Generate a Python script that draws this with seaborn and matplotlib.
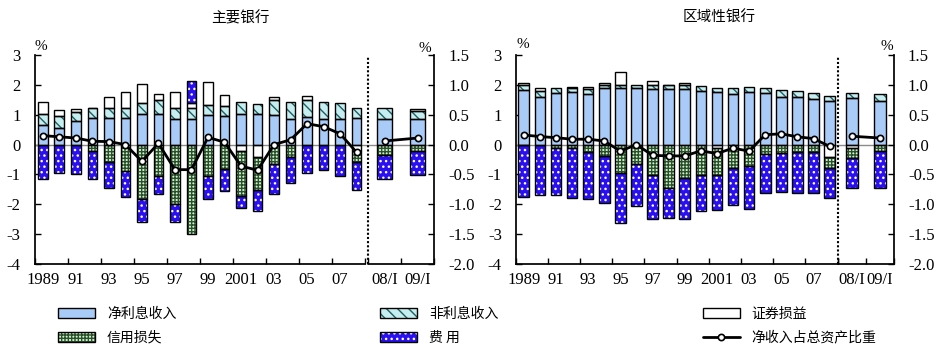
import numpy as np
import seaborn as sns
import matplotlib.pyplot as plt
from matplotlib.patches import Patch
from matplotlib.lines import Line2D
from matplotlib.legend_handler import HandlerTuple

years = [str(y) for y in range(1989, 2009)]
quarters = ['08/I', '09/I']
year_labels = ['1989', '91', '93', '95', '97', '99', '2001', '03', '05', '07']
series_names = ['净利息收入', '非利息收入', '证券损益', '信用损失', '费 用']
line_name = '净收入占总资产比重'

# 主要银行 (20 years + 2 quarters)
main_nii = [0.65, 0.57, 0.79, 0.90, 0.90, 0.90, 1.02, 1.02, 0.87, 0.87, 0.98,
            0.96, 1.04, 1.04, 0.98, 0.87, 0.94, 0.87, 0.87, 0.90, 0.84, 0.87]
main_nonii = [0.39, 0.39, 0.31, 0.31, 0.34, 0.34, 0.36, 0.46, 0.37, 0.37, 0.33,
              0.33, 0.38, 0.33, 0.50, 0.55, 0.56, 0.55, 0.51, 0.34, 0.39, 0.25]
main_sec = [0.38, 0.19, 0.10, 0.03, 0.37, 0.51, 0.65, 0.23, 0.51, 0.16, 0.78,
            0.37, -0.22, -0.40, 0.12, 0.0, 0.12, 0.0, 0.0, -0.22, 0.0, 0.07]
main_credit = [0.0, 0.0, 0.0, -0.20, -0.58, -0.88, -1.83, -1.05, -2.00, -2.98, -1.06,
               -0.83, -1.49, -1.12, -0.66, -0.40, 0.0, 0.0, 0.0, -0.37, -0.36, -0.22]
main_exp = [-1.14, -0.94, -0.99, -0.94, -0.89, -0.86, -0.76, -0.60, -0.59, 0.74, -0.77,
            -0.73, -0.42, -0.69, -1.00, -0.88, -0.95, -0.86, -1.05, -0.94, -0.78, -0.81]
main_ratio = [0.15, 0.13, 0.11, 0.055, 0.05, 0.0, -0.28, 0.02, -0.42, -0.42, 0.12,
              0.04, -0.36, -0.43, 0.0, 0.08, 0.35, 0.30, 0.18, -0.13, 0.06, 0.11]

# 区域性银行
reg_nii = [1.82, 1.61, 1.72, 1.77, 1.71, 1.89, 1.88, 1.88, 1.85, 1.86, 1.86,
           1.79, 1.75, 1.71, 1.77, 1.73, 1.60, 1.59, 1.51, 1.46, 1.55, 1.47]
reg_nonii = [0.16, 0.17, 0.16, 0.13, 0.14, 0.12, 0.13, 0.13, 0.15, 0.13, 0.15,
             0.17, 0.13, 0.17, 0.17, 0.15, 0.22, 0.22, 0.23, 0.18, 0.19, 0.23]
reg_sec = [0.09, 0.10, 0.0, 0.04, 0.09, 0.06, 0.41, 0.0, 0.13, 0.02, 0.06,
           0.0, -0.13, 0.0, 0.0, 0.0, 0.0, 0.0, 0.0, -0.41, -0.10, 0.0]
reg_credit = [-0.03, 0.0, -0.11, -0.13, -0.25, -0.38, -0.94, -0.64, -1.01, -1.45, -1.12,
              -1.01, -0.88, -0.78, -0.73, -0.30, -0.27, -0.25, -0.24, -0.37, -0.36, -0.23]
reg_exp = [-1.73, -1.68, -1.57, -1.65, -1.56, -1.58, -1.69, -1.42, -1.48, -1.01, -1.36,
           -1.22, -1.17, -1.23, -1.44, -1.31, -1.31, -1.37, -1.38, -1.02, -1.00, -1.23]
reg_ratio = [0.16, 0.135, 0.115, 0.09, 0.09, 0.06, -0.11, 0.0, -0.18, -0.19, -0.19,
             -0.105, -0.15, -0.06, -0.11, 0.165, 0.18, 0.13, 0.10, -0.03, 0.14, 0.11]

sns.set_theme(style='ticks', rc={'axes.edgecolor': 'black', 'xtick.color': 'black',
                                 'ytick.color': 'black', 'text.color': 'black'})
plt.rcParams['font.family'] = ['Liberation Serif', 'Noto Sans CJK SC']
plt.rcParams['axes.unicode_minus'] = False
plt.rcParams['hatch.linewidth'] = 1.0
CJK = ['Noto Sans CJK SC', 'DejaVu Sans']

# face colour, hatch, hatch colour
styles = [('#a9cbf7', '', 'black'),
          ('#c6eef0', '\\\\\\', '#1f5f63'),
          ('white', '', 'black'),
          ('#d0f2d0', '+++++', '#2a4f2a'),
          ('#2a10f0', '...', 'white')]

fig = plt.figure(figsize=(9.45, 3.55), dpi=100)


def draw_panel(rect, data, ratio, qs, qw, w_year, w_q, sep):
    ax = fig.add_axes(rect)
    ny = len(years)
    x = np.r_[np.arange(ny) + 0.5, qs + qw * (np.arange(len(quarters)) + 0.5)]
    width = np.r_[np.full(ny, w_year), np.full(len(quarters), w_q)]
    xmax = qs + qw * len(quarters)
    ax.axhline(0, color='#8c8c8c', lw=1, zorder=1)
    pos = np.zeros(len(x))
    neg = np.zeros(len(x))
    for vals, (fc, hatch, hc) in zip(data, styles):
        vals = np.asarray(vals, float)
        m = vals != 0
        bottom = np.where(vals > 0, pos, neg)
        ax.bar(x[m], vals[m], width[m], bottom=bottom[m], color=fc, hatch=hatch,
               edgecolor=hc, linewidth=0, zorder=2)
        ax.bar(x[m], vals[m], width[m], bottom=bottom[m], facecolor='none',
               edgecolor='black', linewidth=1, zorder=3)
        pos += np.where(vals > 0, vals, 0)
        neg += np.where(vals < 0, vals, 0)

    ax.set_xlim(0, xmax)
    ax.set_ylim(-4, 3)
    ax.axvline(sep, ymax=0.99, color='black', lw=1.5, ls=(0, (1, 1)), zorder=4)
    for s in ['top', 'right']:
        ax.spines[s].set_visible(False)
    ax.spines['bottom'].set_bounds(0, 20)
    ax.plot([qs, xmax], [-4, -4], color='black', lw=1.25, clip_on=False, zorder=5)
    ax.spines['left'].set_linewidth(1.25)
    ax.spines['bottom'].set_linewidth(1.25)

    ax.set_xticks(list(range(0, 21, 2)) + [qs, qs + qw, xmax])
    ax.set_xticklabels([])
    lab_pos = list(np.arange(0, 20, 2) + 0.5) + list(x[ny:])
    ax.set_xticks(lab_pos, year_labels + quarters, minor=True)
    ax.tick_params(axis='x', which='minor', length=0, labelsize=12, pad=6)
    ax.set_yticks(range(-4, 4))
    ax.tick_params(axis='both', which='major', direction='in', length=4, width=1)
    ax.tick_params(axis='y', labelsize=12, pad=10)
    ax.grid(False)

    ax2 = ax.twinx()
    ax2.set_ylim(-2, 1.5)
    ax2.set_yticks(np.arange(-2, 1.51, 0.5))
    ax2.set_yticklabels(['%.1f' % v for v in np.arange(-2, 1.51, 0.5)])
    for s in ['top', 'left', 'bottom']:
        ax2.spines[s].set_visible(False)
    ax2.spines['right'].set_linewidth(1.25)
    ax2.tick_params(axis='y', direction='in', length=4, width=1, labelsize=12, pad=10)
    ax2.grid(False)
    kw = dict(color='black', linewidth=2, marker='o', markersize=4.5,
              markerfacecolor='white', markeredgecolor='black', markeredgewidth=1.2)
    sns.lineplot(x=x[:ny], y=ratio[:ny], ax=ax2, **kw)
    sns.lineplot(x=x[ny:], y=ratio[ny:], ax=ax2, **kw)
    return ax, ax2


bot = (355 - 264) / 355
hgt = 209 / 355
draw_panel([34.5 / 945, bot, 399.8 / 945, hgt],
           [main_nii, main_nonii, main_sec, main_credit, main_exp], main_ratio,
           qs=20.2, qw=2.0, w_year=0.58, w_q=0.9, sep=20.2)
draw_panel([515.7 / 945, bot, 378.3 / 945, hgt],
           [reg_nii, reg_nonii, reg_sec, reg_credit, reg_exp], reg_ratio,
           qs=20.0, qw=1.75, w_year=0.66, w_q=0.77, sep=20.0)

fig.text(240 / 945, 1 - 18 / 355, '主要银行', family=CJK, fontsize=10.5, ha='center', va='center')
fig.text(719 / 945, 1 - 18 / 355, '区域性银行', family=CJK, fontsize=10.5, ha='center', va='center')
for px, py in [(41, 46), (425, 49), (523, 45), (887, 46)]:
    fig.text(px / 945, 1 - py / 355, '%', fontsize=11, ha='center', va='center')

handles = []
for fc, hatch, hc in styles:
    handles.append((Patch(facecolor=fc, hatch=hatch, edgecolor=hc, linewidth=0),
                    Patch(facecolor='none', edgecolor='black', linewidth=1)))
line_h = Line2D([0], [0], color='black', lw=2, marker='o', markersize=4.5,
                markerfacecolor='white', markeredgecolor='black', markeredgewidth=1.2)
order_h = [handles[0], handles[3], handles[1], handles[4], handles[2], line_h]
order_l = [series_names[0], series_names[3], series_names[1], series_names[4],
           series_names[2], line_name]
fig.legend(order_h, order_l, loc='upper left', bbox_to_anchor=(58 / 945, 1 - 307 / 355),
           ncol=3, frameon=False, borderpad=0, borderaxespad=0, handlelength=2.66,
           handleheight=0.75, handletextpad=0.86, columnspacing=14.7, labelspacing=0.7,
           prop={'family': CJK, 'size': 10},
           handler_map={tuple: HandlerTuple(ndivide=1, pad=0)})

fig.savefig('out.png', dpi=100)
